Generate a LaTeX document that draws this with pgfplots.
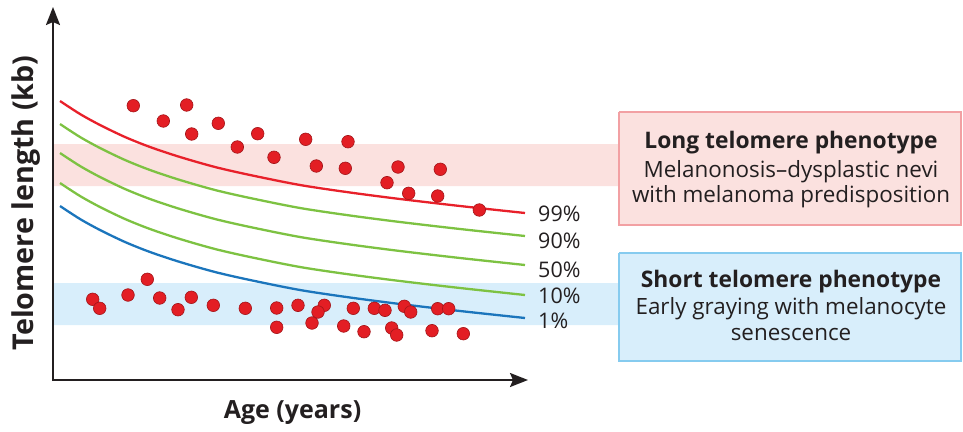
\documentclass[border=0pt]{standalone}
\usepackage{pgfplots}
\pgfplotsset{compat=1.18}
\usepackage{fontspec}
\setmainfont{Open Sans}
\usetikzlibrary{arrows.meta}
\definecolor{txt}{HTML}{231F20}
\definecolor{bandpink}{HTML}{FBE1DF}
\definecolor{bandblue}{HTML}{D8EEFB}
\definecolor{boxpinkline}{HTML}{F2A0A3}
\definecolor{boxblueline}{HTML}{86CBEF}
\definecolor{cred}{HTML}{E8202A}
\definecolor{cgreen}{HTML}{7DC242}
\definecolor{cblue}{HTML}{1B75BC}
\definecolor{dotfill}{HTML}{E31E24}
\definecolor{dotline}{HTML}{A3161A}
\begin{document}
\begin{tikzpicture}
\begin{axis}[hide axis, scale only axis, width=963pt, height=431pt,
  xmin=0, xmax=963, ymin=0, ymax=431, y dir=reverse, clip=false]
\path (rel axis cs:0,0) rectangle (rel axis cs:1,1);
% bands
\addplot[fill=bandpink, draw=none] coordinates {(54,144) (619,144) (619,186) (54,186) (54,144)};
\addplot[fill=bandblue, draw=none] coordinates {(54,283) (619,283) (619,325) (54,325) (54,283)};
% boxes
\addplot[fill=bandpink, draw=boxpinkline, line width=1.5pt] coordinates {(619,112) (961,112) (961,225) (619,225) (619,112)};
\addplot[fill=bandblue, draw=boxblueline, line width=1.5pt] coordinates {(619,253) (961,253) (961,361) (619,361) (619,253)};
% axes
\draw[txt, line width=2pt, -{Stealth[length=18pt,width=14pt,inset=3pt]}] (axis cs:53,381) -- (axis cs:53,7);
\draw[txt, line width=2pt, -{Stealth[length=18pt,width=14pt,inset=3pt]}] (axis cs:52,380) -- (axis cs:528,380);
% percentile curves
\addplot[cred, line width=2.3pt, smooth] coordinates {(60,101) (80,114) (100,125) (125,137) (150,147) (180,157) (215,167) (250,175) (300,185) (350,192.5) (400,199) (460,206) (525,213)};
\addplot[cgreen, line width=2.3pt, smooth] coordinates {(60,124) (80,137) (100,148) (125,160) (150,170) (180,180) (215,190) (250,198) (300,208) (350,215.5) (400,222) (460,229) (525,236)};
\addplot[cgreen, line width=2.3pt, smooth] coordinates {(60,153) (80,166) (100,177) (125,189) (150,199) (180,209) (215,219) (250,227) (300,237) (350,244.5) (400,251) (460,258) (525,265)};
\addplot[cgreen, line width=2.3pt, smooth] coordinates {(60,183) (80,196) (100,207) (125,219) (150,229) (180,239) (215,249) (250,257) (300,267) (350,274.5) (400,281) (460,288) (525,295)};
\addplot[cblue, line width=2.3pt, smooth] coordinates {(60,206) (80,219) (100,230) (125,242) (150,252) (180,262) (215,272) (250,280) (300,290) (350,297.5) (400,304) (460,311) (525,318)};
% data points
\addplot[only marks, mark=*, mark size=6.3pt, mark options={fill=dotfill, draw=dotline, line width=0.6pt}] coordinates {
(133.3,105.7) (186.7,105) (163.3,121) (218.3,123.3) (191.7,134) (257.7,133.7) (237.3,147) (274,157.3)
(305.7,139.3) (348,141.7) (316.3,166) (345.3,168.3) (398,167) (440.3,169.3) (387,182.7) (408.7,193.3) (437.7,196) (479.3,210)
(92.7,299.3) (99.7,308.3) (128,295) (147.3,279.3) (159.7,298) (178,309.7) (191.3,297.3) (213.3,305.3) (245.3,308.3) (276.7,308) (276.7,327.3)
(298,305.3) (324.3,305.3) (318,312) (312,323) (353.3,308.3) (343.7,326) (374.3,308.3) (385,310.3) (364,331.7) (404.3,306.3) (410.7,312) (391.7,328) (396.7,335) (437.7,308.7) (448.7,308.7) (432,330.7) (463.3,333.7)
};
% percentile labels
\begin{scope}[every node/.style={anchor=west, text=txt, font=\fontsize{21.5}{23}\selectfont, inner sep=0pt}]
\node at (axis cs:538,214) {99\%};
\node at (axis cs:538,241) {90\%};
\node at (axis cs:538,270) {50\%};
\node at (axis cs:538,296) {10\%};
\node at (axis cs:538,321) {1\%};
\end{scope}
% box texts
\begin{scope}[every node/.style={anchor=base, text=txt, inner sep=0pt}]
\node[font=\fontsize{22.8}{24}\selectfont\bfseries] at (axis cs:791,148) {Long telomere phenotype};
\node[font=\fontsize{22.4}{24}\selectfont] at (axis cs:791,177) {Melanonosis--dysplastic nevi};
\node[font=\fontsize{22.4}{24}\selectfont] at (axis cs:791,202) {with melanoma predisposition};
\node[font=\fontsize{22.8}{24}\selectfont\bfseries] at (axis cs:791,287) {Short telomere phenotype};
\node[font=\fontsize{22.4}{24}\selectfont] at (axis cs:791,314) {Early graying with melanocyte};
\node[font=\fontsize{22.4}{24}\selectfont] at (axis cs:791,340) {senescence};
\end{scope}
% axis labels
\node[anchor=base, text=txt, inner sep=0pt, font=\fontsize{25}{27}\selectfont\bfseries] at (axis cs:292.5,418) {Age (years)};
\node[anchor=base, rotate=90, text=txt, inner sep=0pt, font=\fontsize{28.7}{30}\selectfont\bfseries] at (axis cs:33,203) {Telomere length (kb)};
\end{axis}
\end{tikzpicture}
\end{document}
